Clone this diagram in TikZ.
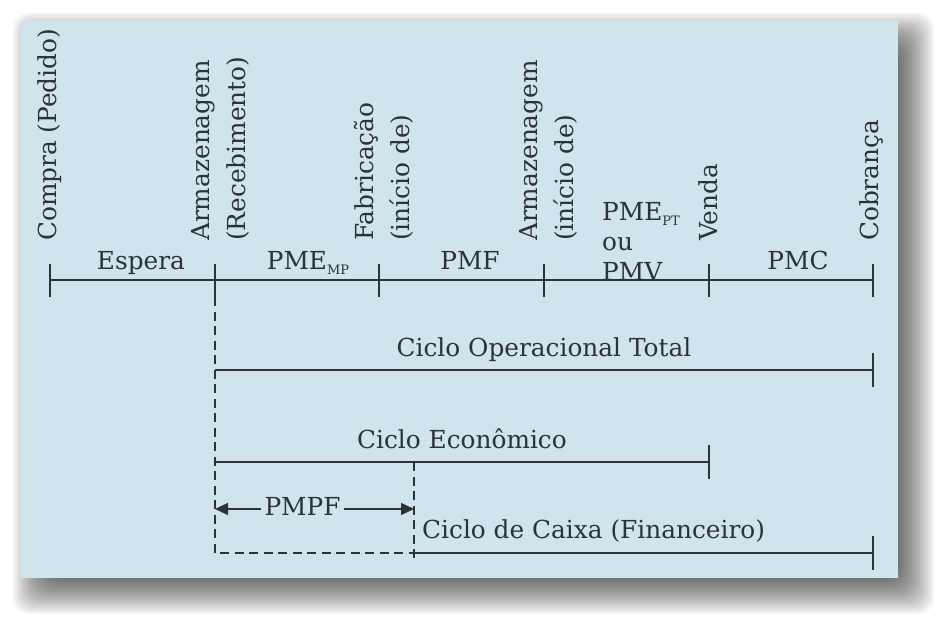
\documentclass[tikz,border=0pt]{standalone}
\usepackage{fontspec}
\setmainfont{DejaVu Serif}
\usetikzlibrary{arrows.meta}
\definecolor{bgblue}{RGB}{207,228,236}
\definecolor{ink}{RGB}{45,50,54}
\newcommand\lowsub[1]{{\fontsize{13}{13}\selectfont\raisebox{-5pt}{#1}}}
\begin{document}
\begin{tikzpicture}[x=1pt,y=-1pt,
  lbl/.style={text=ink,font=\fontsize{24.8}{36}\selectfont,inner sep=0pt},
  vlbl/.style={lbl,rotate=90,anchor=base west},
  hlbl/.style={lbl,anchor=base},
  ln/.style={draw=ink,line width=1.4pt},
  dsh/.style={ln,dash pattern=on 9pt off 5.5pt},
  tip/.style={-{Triangle[length=13pt,width=12pt]}},
]
\useasboundingbox (0,0) rectangle (940,621);
\fill[white] (0,0) rectangle (940,621);
% blurred drop shadow
\foreach \i in {-14,-12,...,22}
  \fill[black,opacity=0.04,rounded corners=16pt] (35-\i,35-\i) rectangle (912+\i,592+\i);
% panel
\fill[bgblue] (21,21) rectangle (898,578);

% event labels (rotated)
\node[vlbl] (compra) at (56,241) {Compra (Pedido)};
\node[vlbl] (arm1) at (245,241) {\vbox{\hbox{Armazenagem}\hbox{(Recebimento)}}};
\node[vlbl] (fab) at (409,241) {\vbox{\hbox{Fabricação}\hbox{(início de)}}};
\node[vlbl] (arm2) at (573,241) {\vbox{\hbox{Armazenagem}\hbox{(início de)}}};
\node[vlbl] (venda) at (717,241) {Venda};
\node[vlbl] (cobr) at (878,241) {Cobrança};

% interval labels
\node[hlbl] (espera) at (141,269) {Espera};
\node[hlbl] (pmemp) at (308,269) {PME\lowsub{MP}};
\node[hlbl] (pmf) at (470,269) {PMF};
\node[lbl,anchor=base west] (pmept) at (602,220) {\vtop{\baselineskip=30pt\hbox{PME\lowsub{PT}}\hbox{ou}\hbox{PMV}}};
\node[hlbl] (pmc) at (798,269) {PMC};

% time line
\coordinate (t0) at (50,280);
\coordinate (t1) at (215,280);
\coordinate (t2) at (379,280);
\coordinate (t3) at (544,280);
\coordinate (t4) at (709,280);
\coordinate (t5) at (873,280);

% cycle coordinates
\coordinate (ot1) at (215,370);
\coordinate (ot2) at (873,370);
\coordinate (ec1) at (215,462);
\coordinate (ec2) at (709,462);
\coordinate (ecm) at (414,462);
\coordinate (cx0) at (215,553);
\coordinate (cx1) at (414,553);
\coordinate (cx2) at (873,553);
\coordinate (pfe) at (414,562);
\coordinate (pL) at (215,509);
\coordinate (pR) at (414,509);

% dashed guides
\draw[dsh] ([yshift=-17pt]t1) -- (cx0) -- (cx1);
\draw[dsh] (ecm) -- (pfe);

% solid lines
\draw[ln] (t0) -- (t5);
\foreach \c in {t0,t1,t2,t3,t4,t5}
  \draw[ln] ([yshift=16pt]\c) -- ([yshift=-17pt]\c);

\node[hlbl] (cot) at (544,356) {Ciclo Operacional Total};
\draw[ln] (ot1) -- (ot2);
\draw[ln] ([yshift=17pt]ot2) -- ([yshift=-17pt]ot2);

\node[hlbl] (ce) at (462,448) {Ciclo Econômico};
\draw[ln] (ec1) -- (ec2);
\draw[ln] ([yshift=17pt]ec2) -- ([yshift=-17pt]ec2);

\node[lbl,anchor=base,inner xsep=3pt] (pmpf) at (302.5,515) {PMPF};
\draw[ln,tip] (pmpf.west |- pL) -- (pL);
\draw[ln,tip] (pmpf.east |- pR) -- (pR);

\node[lbl,anchor=base west] (ccx) at (422,538) {Ciclo de Caixa (Financeiro)};
\draw[ln] (cx1) -- (cx2);
\draw[ln] ([yshift=17pt]cx2) -- ([yshift=-17pt]cx2);
\end{tikzpicture}
\end{document}
